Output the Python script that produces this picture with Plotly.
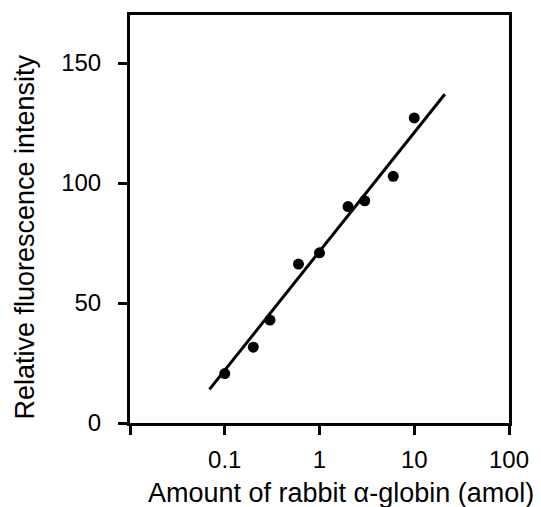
import plotly.graph_objects as go

# Data
amount_amol = [0.1, 0.2, 0.3, 0.6, 1.0, 2.0, 3.0, 6.0, 10.0]
fluorescence = [20.6, 31.6, 42.9, 66.2, 70.9, 90.2, 92.6, 102.8, 127.1]

fit_x = [0.069, 21.0]
fit_y = [14.0, 137.0]

x_tickvals = [0.01, 0.1, 1, 10, 100]
x_ticktext = ["", "0.1", "1", "10", "100"]
y_tickvals = [0, 50, 100, 150]
y_ticktext = ["0", "50", "100", "150"]

FONT = "Liberation Sans, Arial, Helvetica, sans-serif"

fig = go.Figure()
fig.add_trace(go.Scatter(
    x=fit_x, y=fit_y, mode="lines",
    line=dict(color="black", width=3),
    showlegend=False, hoverinfo="skip",
))
fig.add_trace(go.Scatter(
    x=amount_amol, y=fluorescence, mode="markers",
    marker=dict(color="black", size=11, line=dict(width=0)),
    showlegend=False,
))

fig.update_layout(
    width=541, height=507,
    margin=dict(l=130, r=26, t=13, b=84),
    paper_bgcolor="white", plot_bgcolor="white",
    font=dict(family=FONT, size=24, color="black"),
    xaxis=dict(
        type="log", range=[-2, 2],
        tickvals=x_tickvals, ticktext=x_ticktext,
        ticks="outside", ticklen=9, tickwidth=3, tickcolor="black",
        showline=True, linewidth=3, linecolor="black", mirror=True,
        showgrid=False, zeroline=False,
        tickfont=dict(size=24), ticklabelstandoff=4,
    ),
    yaxis=dict(
        range=[0, 170],
        tickvals=y_tickvals, ticktext=y_ticktext,
        ticks="outside", ticklen=9, tickwidth=3, tickcolor="black",
        showline=True, linewidth=3, linecolor="black", mirror=True,
        showgrid=False, zeroline=False,
        tickfont=dict(size=24), ticklabelstandoff=12,
    ),
    annotations=[
        dict(text="Amount of rabbit α-globin (amol)", xref="paper", yref="paper",
             x=0.556, y=-0.1707, xanchor="center", yanchor="middle",
             showarrow=False, font=dict(size=27)),
        dict(text="Relative fluorescence intensity", xref="paper", yref="paper",
             x=-0.278, y=0.456, xanchor="center", yanchor="middle",
             textangle=-90, showarrow=False, font=dict(size=27)),
    ],
)

fig.write_html("out.html")
